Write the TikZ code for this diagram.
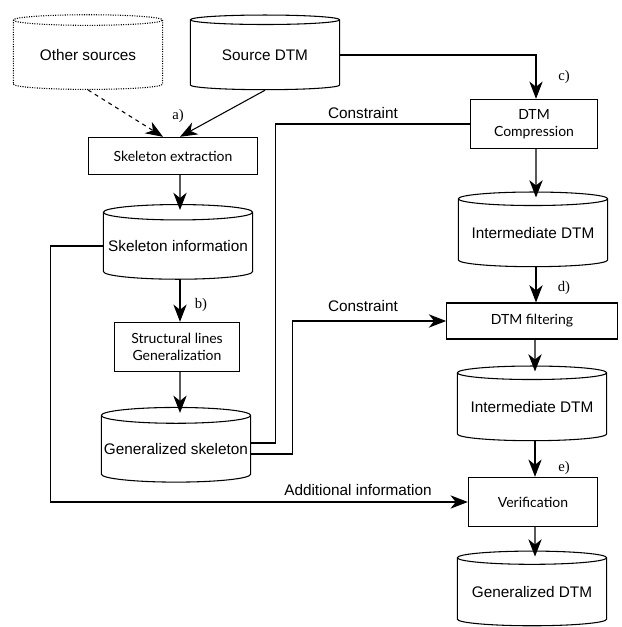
\documentclass[tikz,border=0pt]{standalone}
\usepackage{fontspec}
\setmainfont{Liberation Sans}
\newfontfamily\boxfont{Lato}
\newfontfamily\stepfont{Liberation Serif}
\usetikzlibrary{shapes.geometric,arrows.meta,calc}

\tikzset{
  store/.style={cylinder, shape border rotate=90, aspect=0.11, draw, line width=0.8pt,
    minimum width=112pt, minimum height=56pt, inner sep=0pt,
    font=\fontsize{11.5}{13}\selectfont},
  procbox/.style={rectangle, draw, line width=0.8pt, align=center,
    font=\boxfont\fontsize{10.5}{12.5}\selectfont},
  steplabel/.style={font=\stepfont\fontsize{11}{13}\selectfont},
  flowlabel/.style={font=\fontsize{11.5}{13}\selectfont},
  flow/.style={line width=0.8pt, -{Stealth[length=13pt,width=10pt,inset=4pt]}}
}

\begin{document}
\begin{tikzpicture}[x=0.75pt,y=0.75pt,yscale=-1,xscale=1]
    \useasboundingbox (0,0) rectangle (621,627);
    \node (other)    at (88,55)   [store, densely dotted] {Other sources};
    \node (srcdtm)   at (265,55)  [store] {Source DTM};
    \node (extract)  at (173,156) [procbox, minimum width=127pt, minimum height=28pt] {Skeleton extraction};
    \node (skelinfo) at (178,246) [store] {Skeleton information};
    \node (structgen) at (177,347) [procbox, minimum width=94pt, minimum height=37pt] {Structural lines\\Generalization};
    \node (genskel)  at (176,449) [store] {Generalized skeleton};
    \node (compress) at (534,124) [procbox, minimum width=95pt, minimum height=37pt] {DTM\\Compression};
    \node (interA)   at (533,233) [store] {Intermediate DTM};
    \node (filter)   at (532,321) [procbox, minimum width=128pt, minimum height=27pt] {DTM filtering};
    \node (interB)   at (532,407) [store] {Intermediate DTM};
    \node (verify)   at (533,502) [procbox, minimum width=97pt, minimum height=37pt] {Verification};
    \node (gendtm)   at (532,592) [store] {Generalized DTM};

    \draw [flow, dashed] (other.south) -- ($(extract.north)+(-10,0)$);
    \draw [flow] (srcdtm.south) -- ($(extract.north)+(7,0)$);
    \draw [flow] ($(extract.south)+(7,0)$) -- ($(skelinfo.north)+(2,6)$);
    \draw [flow] ($(skelinfo.south)+(2,0)$) -- ($(structgen.north)+(3,0)$);
    \draw [flow] ($(structgen.south)+(3,0)$) -- ($(genskel.north)+(4,6)$);
    \draw [flow] (srcdtm.east) -| ($(compress.north)+(2,0)$);
    \draw [flow] ($(compress.south)+(2,0)$) -- ($(interA.north)+(3,6)$);
    \draw [flow] ($(interA.south)+(3,0)$) -- ($(filter.north)+(4,0)$);
    \draw [flow] ($(filter.south)+(3,0)$) -- ($(interB.north)+(3,6)$);
    \draw [flow] ($(interB.south)+(3,0)$) -- ($(verify.north)+(2,0)$);
    \draw [flow] ($(verify.south)+(2,0)$) -- ($(gendtm.north)+(3,6)$);

    \draw [line width=0.8pt] (compress.west) -- ++(-195,0) |- ($(genskel.east)+(0,-6)$);
    \draw [flow] ($(genskel.east)+(0,5)$) -- ++(41,0) |- (filter.west);
    \draw [flow] (skelinfo.west) -- ++(-52,0) |- (verify.west);

    \node (lbla) at (178,116) [steplabel] {a)};
    \node (lblb) at (201,305) [steplabel] {b)};
    \node (lblc) at (564,77)  [steplabel] {c)};
    \node (lbld) at (564,288) [steplabel] {d)};
    \node (lble) at (564,468) [steplabel] {e)};
    \node (lblcons1) at (363,113) [flowlabel] {Constraint};
    \node (lblcons2) at (363,306) [flowlabel] {Constraint};
    \node (lbladd)   at (358,490) [flowlabel] {Additional information};
\end{tikzpicture}
\end{document}
